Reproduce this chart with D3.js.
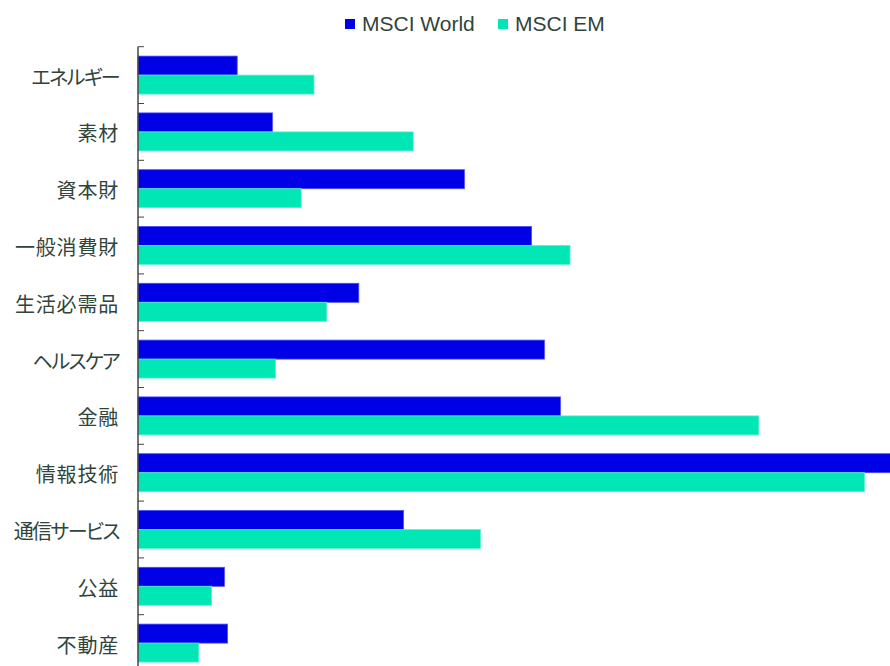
<!DOCTYPE html>
<html>
<head>
<meta charset="utf-8">
<script src="https://cdn.jsdelivr.net/npm/d3@7"></script>
<style>
  body { margin: 0; background: #fff; }
  text { font-family: "Liberation Sans", Arial, "Noto Sans CJK JP", sans-serif; fill: #2f453c; }
  .lbl text { font-family: "Noto Sans CJK JP", sans-serif; font-feature-settings: "palt"; }
</style>
</head>
<body>
<div id="chart"></div>
<script>
// sector weights (%)
const sectors = ['エネルギー', '素材', '資本財', '一般消費財', '生活必需品', 'ヘルスケア', '金融', '情報技術', '通信サービス', '公益', '不動産'];
const series = ['MSCI World', 'MSCI EM'];
const world = [3.1, 4.2, 10.2, 12.3, 6.9, 12.7, 13.2, 23.6, 8.3, 2.7, 2.8];
const em = [5.5, 8.6, 5.1, 13.5, 5.9, 4.3, 19.4, 22.7, 10.7, 2.3, 1.9];
const colors = ['#0000e6', '#00e6b4'];
const strokes = ['#4a4aff', '#5cf0cc'];

const W = 890, H = 666, M = { t: 46.7, l: 138 };
const svg = d3.select('#chart').append('svg').attr('width', W).attr('height', H);

const rows = sectors.map((s, i) => ({ sector: s, vals: [world[i], em[i]] }));

const y = d3.scaleBand().domain(sectors).range([M.t, M.t + 56.8 * sectors.length]);
const sub = d3.scaleBand().domain(series).range([0, y.bandwidth()]).paddingInner(0).paddingOuter(0.495);
const x = d3.scaleLinear().domain([0, 23.5]).range([M.l, W]);

// bars
const g = svg.selectAll('g.row').data(rows).enter().append('g')
  .attr('class', 'row').attr('transform', d => `translate(0,${y(d.sector)})`);
g.selectAll('rect')
  .data(d => d.vals.map((v, k) => ({ v, k })))
  .enter().append('rect')
  .attr('x', x(0))
  .attr('y', d => sub(series[d.k]))
  .attr('width', d => x(d.v) - x(0))
  .attr('height', sub.bandwidth())
  .attr('fill', d => colors[d.k])
  .attr('stroke', d => strokes[d.k])
  .attr('stroke-width', 0.8);

// axis with labels, ticks between categories
const ax = svg.append('g').attr('class', 'lbl').attr('transform', `translate(${M.l},0)`)
  .call(d3.axisLeft(y).tickSize(0).tickPadding(19));
ax.select('.domain').remove();
ax.selectAll('text')
  .attr('dy', '0.47em')
  .style('font-size', '20px')
  .style('fill', '#2f453c')
  .style('letter-spacing', d => /[\u30a0-\u30ff]/.test(d) ? '-1.6px' : '0.8px');

svg.append('line')
  .attr('x1', M.l).attr('x2', M.l)
  .attr('y1', y.range()[0]).attr('y2', y.range()[1])
  .attr('stroke', '#444').attr('stroke-width', 1.5);
svg.selectAll('line.tick').data(sectors).enter().append('line')
  .attr('x1', M.l).attr('x2', M.l + 6)
  .attr('y1', d => y(d)).attr('y2', d => y(d))
  .attr('stroke', '#444').attr('stroke-width', 1);

// legend
const legX = [345, 498];
const lg = svg.selectAll('g.leg').data(series).enter().append('g')
  .attr('transform', (d, i) => `translate(${legX[i]},19)`);
lg.append('rect').attr('width', 10).attr('height', 10).attr('fill', (d, i) => colors[i]);
lg.append('text').attr('x', 17).attr('y', 12).style('font-size', '21px').text(d => d);
</script>
</body>
</html>
